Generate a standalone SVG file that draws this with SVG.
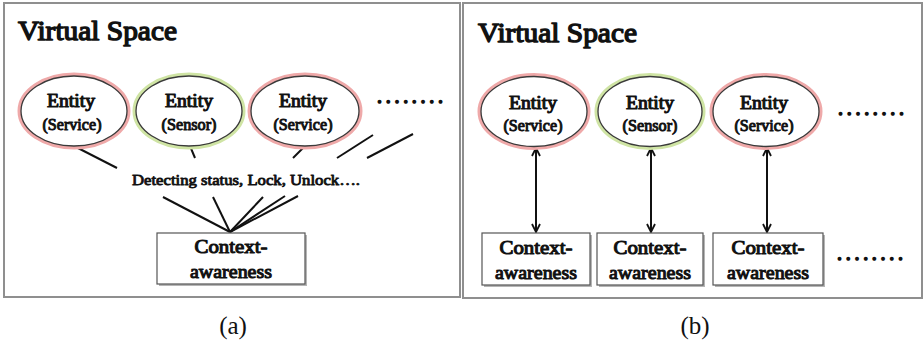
<svg xmlns="http://www.w3.org/2000/svg" width="924" height="345" viewBox="0 0 924 345">
<defs>
<marker id="ah" viewBox="0 0 10 10" refX="9" refY="5" markerWidth="10" markerHeight="10" markerUnits="userSpaceOnUse" orient="auto-start-reverse">
<path d="M1,1 L9,5 L1,9" fill="none" stroke="#111" stroke-width="1.8"/>
</marker>
</defs>
<style>
.frame{fill:#fff;stroke:#8f8f8f;stroke-width:2}
.t{font-family:'Liberation Serif','Times New Roman',serif;font-weight:normal;fill:#111;stroke:#111;stroke-linejoin:round}
.title{font-size:28px;stroke-width:1.4}
.ent{font-size:18px;stroke-width:1.05;text-anchor:middle}
.sub{font-size:16px;stroke-width:0.95;text-anchor:middle}
.lbl{font-size:15px;stroke-width:0.85}
.box{font-size:19px;stroke-width:1.05;text-anchor:middle}
.dots{font-size:20px;stroke-width:1.6}
.cap{font-family:'Liberation Serif',serif;font-size:25px;fill:#111;text-anchor:middle}
.glowr{fill:none;stroke:#efa9a9;stroke-width:5}
.glowg{fill:none;stroke:#cfe4a4;stroke-width:5}
.ell{fill:#fff;stroke:#3a3a3a;stroke-width:1.3}
.rect{fill:#fff;stroke:#555;stroke-width:1.2}
.shadow{fill:#b5b5b5}
.ln{stroke:#111;stroke-width:2;fill:none}
.arr{stroke:#111;stroke-width:2;fill:none;marker-start:url(#ah);marker-end:url(#ah)}
</style>

<g id="panel-a">
<rect class="frame" x="4" y="3" width="456" height="294"/>
<text class="t title" x="18" y="40" textLength="159" lengthAdjust="spacingAndGlyphs">Virtual Space</text>
</g>
<g id="panel-b">
<rect class="frame" x="463" y="3" width="459" height="295"/>
<text class="t title" x="478" y="42" textLength="159" lengthAdjust="spacingAndGlyphs">Virtual Space</text>
</g>

<g id="connectors">
<line class="ln" x1="74" y1="146" x2="117" y2="168"/>
<line class="ln" x1="190" y1="146" x2="195" y2="158"/>
<line class="ln" x1="305" y1="146" x2="293" y2="158"/>
<line class="ln" x1="337" y1="158" x2="373" y2="135"/>
<line class="ln" x1="367" y1="158" x2="413" y2="134"/>
<line class="ln" x1="163" y1="197" x2="230" y2="232"/>
<line class="ln" x1="213" y1="197" x2="230" y2="232"/>
<line class="ln" x1="263" y1="197" x2="230" y2="232"/>
<line class="ln" x1="285" y1="196" x2="230" y2="232"/>
<line class="ln" x1="298" y1="196" x2="230" y2="232"/>
<line class="arr" x1="536" y1="148" x2="536" y2="232"/>
<line class="arr" x1="651" y1="148" x2="651" y2="232"/>
<line class="arr" x1="767" y1="148" x2="767" y2="232"/>
</g>

<g id="a-entity1">
<ellipse class="glowr" cx="74" cy="111" rx="54" ry="36"/>
<ellipse class="ell" cx="74" cy="111" rx="53" ry="35"/>
<text class="t ent" x="71" y="107" textLength="48" lengthAdjust="spacingAndGlyphs">Entity</text>
<text class="t sub" x="72" y="130" textLength="59" lengthAdjust="spacingAndGlyphs">(Service)</text>
</g>
<g id="a-entity2">
<ellipse class="glowg" cx="189" cy="111" rx="54" ry="36"/>
<ellipse class="ell" cx="189" cy="111" rx="53" ry="35"/>
<text class="t ent" x="189" y="107" textLength="48" lengthAdjust="spacingAndGlyphs">Entity</text>
<text class="t sub" x="189" y="130" textLength="55" lengthAdjust="spacingAndGlyphs">(Sensor)</text>
</g>
<g id="a-entity3">
<ellipse class="glowr" cx="305" cy="111" rx="55" ry="36"/>
<ellipse class="ell" cx="305" cy="111" rx="54" ry="35"/>
<text class="t ent" x="303" y="107" textLength="48" lengthAdjust="spacingAndGlyphs">Entity</text>
<text class="t sub" x="303" y="130" textLength="59" lengthAdjust="spacingAndGlyphs">(Service)</text>
</g>
<g id="a-dots">
<text class="t dots" x="377" y="103" textLength="66" lengthAdjust="spacing">........</text>
</g>
<g id="a-label">
<text class="t lbl" x="132" y="185" textLength="228" lengthAdjust="spacingAndGlyphs">Detecting status, Lock, Unlock….</text>
</g>
<g id="a-context">
<rect class="shadow" x="159" y="235" width="148" height="51"/>
<rect class="rect" x="157" y="233" width="148" height="51"/>
<text class="t box" x="231" y="253" textLength="73" lengthAdjust="spacingAndGlyphs">Context-</text>
<text class="t box" x="231" y="278" textLength="82" lengthAdjust="spacingAndGlyphs">awareness</text>
</g>
<g id="caption-a">
<text class="cap" x="233" y="334">(a)</text>
</g>

<g id="b-entity1">
<ellipse class="glowr" cx="534" cy="111.5" rx="54" ry="36"/>
<ellipse class="ell" cx="534" cy="111.5" rx="53" ry="35"/>
<text class="t ent" x="533" y="109" textLength="48" lengthAdjust="spacingAndGlyphs">Entity</text>
<text class="t sub" x="533" y="131" textLength="59" lengthAdjust="spacingAndGlyphs">(Service)</text>
</g>
<g id="b-entity2">
<ellipse class="glowg" cx="650" cy="111.5" rx="53" ry="36"/>
<ellipse class="ell" cx="650" cy="111.5" rx="52" ry="35"/>
<text class="t ent" x="650" y="109" textLength="48" lengthAdjust="spacingAndGlyphs">Entity</text>
<text class="t sub" x="650" y="131" textLength="55" lengthAdjust="spacingAndGlyphs">(Sensor)</text>
</g>
<g id="b-entity3">
<ellipse class="glowr" cx="766" cy="111.5" rx="54" ry="36"/>
<ellipse class="ell" cx="766" cy="111.5" rx="53" ry="35"/>
<text class="t ent" x="764" y="109" textLength="48" lengthAdjust="spacingAndGlyphs">Entity</text>
<text class="t sub" x="764" y="131" textLength="59" lengthAdjust="spacingAndGlyphs">(Service)</text>
</g>
<g id="b-dots1">
<text class="t dots" x="838" y="115" textLength="66" lengthAdjust="spacing">........</text>
</g>
<g id="b-context1">
<rect class="shadow" x="484" y="235" width="108" height="52"/>
<rect class="rect" x="482" y="233" width="108" height="52"/>
<text class="t box" x="536" y="254" textLength="73" lengthAdjust="spacingAndGlyphs">Context-</text>
<text class="t box" x="536" y="279" textLength="82" lengthAdjust="spacingAndGlyphs">awareness</text>
</g>
<g id="b-context2">
<rect class="shadow" x="599" y="235" width="106" height="52"/>
<rect class="rect" x="597" y="233" width="106" height="52"/>
<text class="t box" x="650" y="254" textLength="73" lengthAdjust="spacingAndGlyphs">Context-</text>
<text class="t box" x="650" y="279" textLength="82" lengthAdjust="spacingAndGlyphs">awareness</text>
</g>
<g id="b-context3">
<rect class="shadow" x="715" y="235" width="110" height="52"/>
<rect class="rect" x="713" y="233" width="110" height="52"/>
<text class="t box" x="768" y="254" textLength="73" lengthAdjust="spacingAndGlyphs">Context-</text>
<text class="t box" x="768" y="279" textLength="82" lengthAdjust="spacingAndGlyphs">awareness</text>
</g>
<g id="b-dots2">
<text class="t dots" x="837" y="260" textLength="66" lengthAdjust="spacing">........</text>
</g>
<g id="caption-b">
<text class="cap" x="695" y="334">(b)</text>
</g>
</svg>
